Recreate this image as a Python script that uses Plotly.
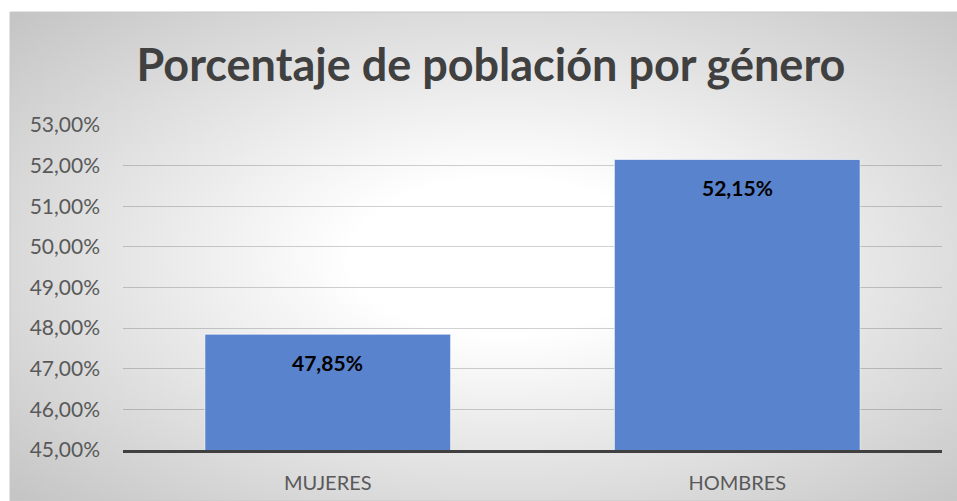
import base64
import plotly.graph_objects as go

# -----------------------
# Data
# -----------------------

categorias = ["MUJERES", "HOMBRES"]
porcentajes = [0.4785, 0.5215]
ticks_y = [0.45, 0.46, 0.47, 0.48, 0.49, 0.50, 0.51, 0.52, 0.53]

# -----------------------
# Background (radial gradient like the Excel chart area)
# -----------------------

svg = """<svg xmlns='http://www.w3.org/2000/svg' width='947' height='489'>
<defs><radialGradient id='g' cx='52%' cy='50%' r='72%'>
<stop offset='0%' stop-color='#ffffff'/>
<stop offset='22%' stop-color='#ffffff'/>
<stop offset='100%' stop-color='#c4c4c4'/>
</radialGradient></defs>
<rect width='947' height='489' fill='url(#g)'/>
</svg>"""
bg = "data:image/svg+xml;base64," + base64.b64encode(svg.encode()).decode()

W, H = 957, 501
L, R, T, B = 123, 15, 125, 51
pw, ph = W - L - R, H - T - B


def px_x(p):
    return (p - L) / pw


def px_y(p):
    return (H - B - p) / ph


fig = go.Figure()

fig.add_trace(go.Bar(
    x=categorias,
    y=porcentajes,
    width=0.6,
    marker=dict(color="#5a83cd", line=dict(color="rgba(255,255,255,0.6)", width=1)),
    hoverinfo="skip",
))

for c, v in zip(categorias, porcentajes):
    fig.add_annotation(
        x=c, y=v, yshift=-28, showarrow=False,
        text="<b>" + f"{v * 100:.2f}%".replace(".", ",") + "</b>",
        font=dict(family="Lato", size=21, color="#000000"),
    )

fig.add_layout_image(
    source=bg, xref="paper", yref="paper",
    x=px_x(10), y=px_y(12), sizex=947 / pw, sizey=489 / ph,
    xanchor="left", yanchor="top", sizing="stretch", layer="below",
)

fig.add_shape(
    type="rect", xref="paper", yref="paper",
    x0=px_x(10), y0=px_y(501), x1=px_x(958), y1=px_y(12),
    line=dict(color="#c8c8c8", width=1), fillcolor="rgba(0,0,0,0)", layer="below",
)

fig.update_layout(
    width=W, height=H,
    margin=dict(l=L, r=R, t=T, b=B, autoexpand=False),
    paper_bgcolor="white",
    plot_bgcolor="rgba(0,0,0,0)",
    separators=",.",
    showlegend=False,
    bargap=0.4,
    title=dict(
        text="<b>Porcentaje de población por género</b>",
        x=0.513, xref="container", xanchor="center",
        y=1 - 65 / H, yref="container", yanchor="middle",
        font=dict(family="Lato", size=45, color="#404040"),
    ),
    font=dict(family="Lato", color="#595959"),
)

fig.update_yaxes(
    range=[0.45, 0.53],
    tickvals=ticks_y,
    tickformat=".2%",
    tickfont=dict(size=21, color="#595959"),
    gridcolor="rgba(0,0,0,0.18)",
    gridwidth=1,
    zeroline=False,
    showline=False,
    layer="above traces",
    ticklabelstandoff=22,
    automargin=False,
    fixedrange=True,
)

fig.update_xaxes(
    tickfont=dict(size=20, color="#595959"),
    showline=True,
    linecolor="#404040",
    linewidth=3,
    showgrid=False,
    ticklabelstandoff=13,
    automargin=False,
    fixedrange=True,
)

fig.write_html(
    "out.html",
    config={"displayModeBar": False},
    post_script="document.body.style.margin='0';",
)
